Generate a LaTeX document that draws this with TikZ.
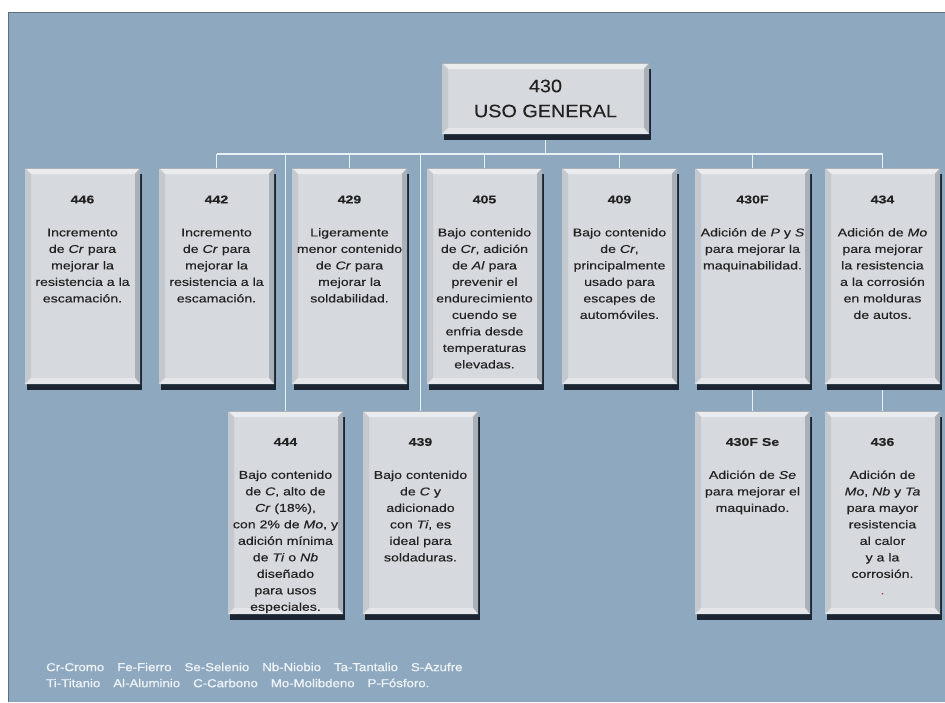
\documentclass[tikz,border=0pt]{standalone}
\usepackage{fontspec}
\setmainfont{Liberation Sans}
\newfontfamily\bodyfont[FakeStretch=1.25,FakeBold=0.35]{Liberation Sans}
\newfontfamily\titlefont[FakeStretch=1.1,FakeBold=0.2]{Liberation Sans}
\newfontfamily\legfont[FakeStretch=1.15,FakeBold=1]{Liberation Sans}
\usetikzlibrary{shadows}
\definecolor{panelC}{HTML}{8EA8BF}
\definecolor{edgeC}{HTML}{5E6E7C}
\definecolor{faceC}{HTML}{D6D9DD}
\definecolor{bevT}{HTML}{EAECEE}
\definecolor{bevL}{HTML}{C4C9CF}
\definecolor{bevR}{HTML}{A9B0B8}
\definecolor{bevB}{HTML}{E4E6E9}
\definecolor{shadC}{HTML}{1B2632}
\definecolor{connC}{HTML}{E6F2F5}
\definecolor{txtC}{HTML}{222222}
\definecolor{legC}{HTML}{EEF3F7}
\definecolor{dotC}{HTML}{B04040}
\pgfdeclarelayer{bg}
\pgfsetlayers{bg,main}
\tikzset{
  bevelbox/.style={rectangle, inner sep=0pt, fill=faceC, draw=none,
    drop shadow={shadow xshift=2pt, shadow yshift=-6pt, fill=shadC, opacity=1},
    path picture={
      \path (path picture bounding box.north west) coordinate (pNW)
            (path picture bounding box.north east) coordinate (pNE)
            (path picture bounding box.south west) coordinate (pSW)
            (path picture bounding box.south east) coordinate (pSE);
      \fill[bevT] (pNW) -- (pNE) -- ([xshift=-6pt,yshift=-6pt]pNE) -- ([xshift=6pt,yshift=-6pt]pNW) -- cycle;
      \fill[bevL] (pNW) -- ([xshift=6pt,yshift=-6pt]pNW) -- ([xshift=6pt,yshift=6pt]pSW) -- (pSW) -- cycle;
      \fill[bevR] (pNE) -- ([xshift=-5pt,yshift=-6pt]pNE) -- ([xshift=-5pt,yshift=6pt]pSE) -- (pSE) -- cycle;
      \fill[bevB] (pSW) -- ([xshift=6pt,yshift=6pt]pSW) -- ([xshift=-5pt,yshift=6pt]pSE) -- (pSE) -- cycle;
      \draw[bevR, line width=0.8pt] (pNW) -- (pNE);
    }},
  rowone/.style={bevelbox, minimum width=115pt, minimum height=216pt},
  rowtwo/.style={bevelbox, minimum width=115pt, minimum height=203pt},
  txt/.style={anchor=north, align=center, inner sep=0pt, text=txtC,
    font=\bodyfont\fontsize{11.3}{16.5}\selectfont},
  conn/.style={draw=connC, line width=1.2pt},
  legend/.style={anchor=west, inner sep=0pt, text=legC,
    font=\legfont\fontsize{11.5}{16}\selectfont},
}
\newcommand{\gp}{\hspace{13pt}}
\begin{document}
\begin{tikzpicture}[x=1pt,y=-1pt]
\useasboundingbox (0,0) rectangle (945,702);
% top box
\node[bevelbox, minimum width=207pt, minimum height=71pt] (top) at (545.5,98.5) {};
\node[anchor=center, align=center, inner sep=0pt, text=txtC,
  font=\titlefont\fontsize{18}{25}\selectfont] (ttop) at (top.center) {430\\USO GENERAL};
% row 1
\node[rowone] (b446)  at (82.5,276) {};
\node[rowone] (b442)  at (216.5,276) {};
\node[rowone] (b429)  at (349.5,276) {};
\node[rowone] (b405)  at (484.5,276) {};
\node[rowone] (b409)  at (619.5,276) {};
\node[rowone] (b430F) at (752.5,276) {};
\node[rowone] (b434)  at (882.5,276) {};
% row 2
\node[rowtwo] (b444)   at (285.5,512.5) {};
\node[rowtwo] (b439)   at (420.5,512.5) {};
\node[rowtwo] (b430FSe) at (752.5,512.5) {};
\node[rowtwo] (b436)   at (882.5,512.5) {};
% texts row 1
\node[txt] (t446) at ([yshift=-27.5pt]b446.north) {\textbf{446}\\[16.5pt]Incremento\\de \textit{Cr} para\\mejorar la\\resistencia a la\\escamación.};
\node[txt] (t442) at ([yshift=-27.5pt]b442.north) {\textbf{442}\\[16.5pt]Incremento\\de \textit{Cr} para\\mejorar la\\resistencia a la\\escamación.};
\node[txt] (t429) at ([yshift=-27.5pt]b429.north) {\textbf{429}\\[16.5pt]Ligeramente\\menor contenido\\de \textit{Cr} para\\mejorar la\\soldabilidad.};
\node[txt] (t405) at ([yshift=-27.5pt]b405.north) {\textbf{405}\\[16.5pt]Bajo contenido\\de \textit{Cr}, adición\\de \textit{Al} para\\prevenir el\\endurecimiento\\cuendo se\\enfria desde\\temperaturas\\elevadas.};
\node[txt] (t409) at ([yshift=-27.5pt]b409.north) {\textbf{409}\\[16.5pt]Bajo contenido\\de \textit{Cr},\\principalmente\\usado para\\escapes de\\automóviles.};
\node[txt] (t430F) at ([yshift=-27.5pt]b430F.north) {\textbf{430F}\\[16.5pt]Adición de \textit{P} y \textit{S}\\para mejorar la\\maquinabilidad.};
\node[txt] (t434) at ([yshift=-27.5pt]b434.north) {\textbf{434}\\[16.5pt]Adición de \textit{Mo}\\para mejorar\\la resistencia\\a la corrosión\\en molduras\\de autos.};
% texts row 2
\node[txt] (t444) at ([yshift=-27pt]b444.north) {\textbf{444}\\[16.5pt]Bajo contenido\\de \textit{C}, alto de\\\textit{Cr} (18\%),\\con 2\% de \textit{Mo}, y\\adición mínima\\de \textit{Ti} o \textit{Nb}\\diseñado\\para usos\\especiales.};
\node[txt] (t439) at ([yshift=-27pt]b439.north) {\textbf{439}\\[16.5pt]Bajo contenido\\de \textit{C} y\\adicionado\\con \textit{Ti}, es\\ideal para\\soldaduras.};
\node[txt] (t430FSe) at ([yshift=-27pt]b430FSe.north) {\textbf{430F Se}\\[16.5pt]Adición de \textit{Se}\\para mejorar el\\maquinado.};
\node[txt] (t436) at ([yshift=-27pt]b436.north) {\textbf{436}\\[16.5pt]Adición de\\\textit{Mo}, \textit{Nb} y \textit{Ta}\\para mayor\\resistencia\\al calor\\y a la\\corrosión.\\\textcolor{dotC}{.}};
% legend
\node[legend] (leg1) at (46,667) {Cr-Cromo\gp Fe-Fierro\gp Se-Selenio\gp Nb-Niobio\gp Ta-Tantalio\gp S-Azufre};
\node[legend] (leg2) at (46,683) {Ti-Titanio\gp Al-Aluminio\gp C-Carbono\gp Mo-Molibdeno\gp P-Fósforo.};
% background + connectors
\begin{pgfonlayer}{bg}
  \fill[white] (0,0) rectangle (945,702);
  \fill[panelC] (8,12) rectangle (945,702);
  \draw[edgeC, line width=1pt] (8,702) -- (8,12) -- (945,12);
  \coordinate (busy) at (0,154);
  \draw[conn] (top.south) -- (top.south |- busy);
  \draw[conn] (b442.north |- busy) -- (b434.north |- busy);
  \foreach \n in {b442,b429,b405,b409,b430F,b434,b444,b439}
    \draw[conn] (\n.north |- busy) -- (\n.north);
  \draw[conn] (b430F.south) -- (b430FSe.north);
  \draw[conn] (b434.south) -- (b436.north);
\end{pgfonlayer}
\end{tikzpicture}
\end{document}
